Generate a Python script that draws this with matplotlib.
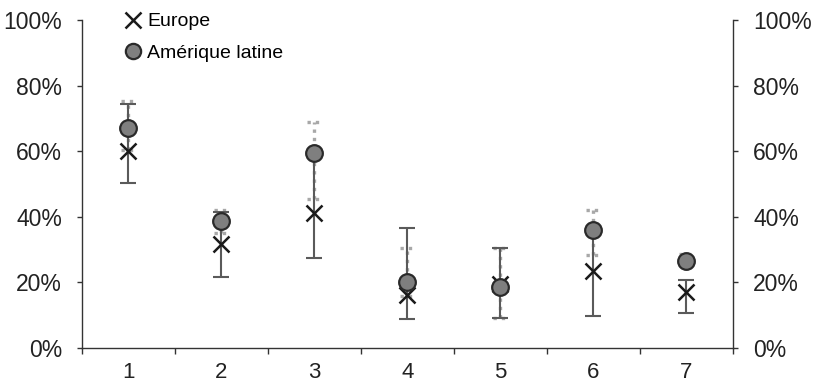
import matplotlib.pyplot as plt
from matplotlib.lines import Line2D
from matplotlib.ticker import FixedLocator, PercentFormatter
import numpy as np

plt.rcParams['font.family'] = ['Liberation Sans', 'DejaVu Sans']

categories = [1, 2, 3, 4, 5, 6, 7]

europe = [60, 31.7, 41, 16.2, 19.5, 23.3, 16.9]
europe_low = [50.3, 21.6, 27.4, 8.8, 9.0, 9.6, 10.6]
europe_high = [74.5, 41.5, 59.5, 36.7, 30.6, 36.0, 20.7]

latam = [67, 38.7, 59.4, 20.2, 18.7, 36.0, 26.5]
latam_low = [60.2, 35.0, 45.4, 15.8, 9.1, 28.4, 25.3]
latam_high = [75.2, 42.0, 69.0, 30.5, 30.5, 41.9, 28.7]

x = np.array(categories)

fig = plt.figure(figsize=(8.19, 3.84), dpi=100)
ax = fig.add_axes([0.100, 0.094, 0.795, 0.854])

# Europe: solid error bars with caps
ax.errorbar(x, europe,
            yerr=[np.array(europe) - europe_low, np.array(europe_high) - europe],
            fmt='none', ecolor='#5a5a5a', elinewidth=1.5, capsize=5.5, capthick=1.5, zorder=2)

# Amérique latine: dotted error bars
dots = dict(colors='#a8a8a8', linestyles=(0, (1, 1.5)), linewidth=2.4, zorder=1)
ax.vlines(x, latam_low, latam_high, **dots)
ax.hlines(latam_low, x - 0.08, x + 0.08, **dots)
ax.hlines(latam_high, x - 0.08, x + 0.08, **dots)

ax.plot(x, europe, linestyle='none', marker='x', markersize=11, markeredgewidth=1.8,
        color='#1a1a1a', zorder=3)
ax.plot(x, latam, linestyle='none', marker='o', markersize=12, markerfacecolor='#7f7f7f',
        markeredgecolor='#2a2a2a', markeredgewidth=1.6, zorder=4)

ax.set_xlim(0.5, 7.5)
ax.set_ylim(0, 100)
ax.set_yticks([0, 20, 40, 60, 80, 100])
ax.yaxis.set_major_formatter(PercentFormatter(decimals=0))
ax.set_xticks(categories)
ax.xaxis.set_minor_locator(FixedLocator(np.arange(0.5, 8, 1)))
ax.tick_params(axis='x', which='major', length=0, labelsize=16, pad=10.5, colors='#222222')
ax.tick_params(axis='x', which='minor', length=4.3, width=1, direction='out', color='#333333')
ax.tick_params(axis='y', which='major', length=3.6, width=1, direction='out', labelsize=16.5,
               left=True, right=True, labelleft=True, labelright=True, pad=10.8,
               colors='#333333', labelcolor='#222222')

for s in ['left', 'right', 'bottom']:
    ax.spines[s].set_color('#333333')
    ax.spines[s].set_linewidth(1)
ax.spines['top'].set_visible(False)

handles = [
    Line2D([], [], linestyle='none', marker='x', markersize=11, markeredgewidth=1.8, color='#1a1a1a'),
    Line2D([], [], linestyle='none', marker='o', markersize=11, markerfacecolor='#7f7f7f',
           markeredgecolor='#2a2a2a', markeredgewidth=1.6),
]
ax.legend(handles, ['Europe', 'Amérique latine'], loc='upper left',
          bbox_to_anchor=(0.064, 1.022), frameon=False, fontsize=14,
          handlelength=0.95, handletextpad=0.25, labelspacing=0.72, borderpad=0,
          borderaxespad=0)

fig.savefig('out.png', dpi=100)
